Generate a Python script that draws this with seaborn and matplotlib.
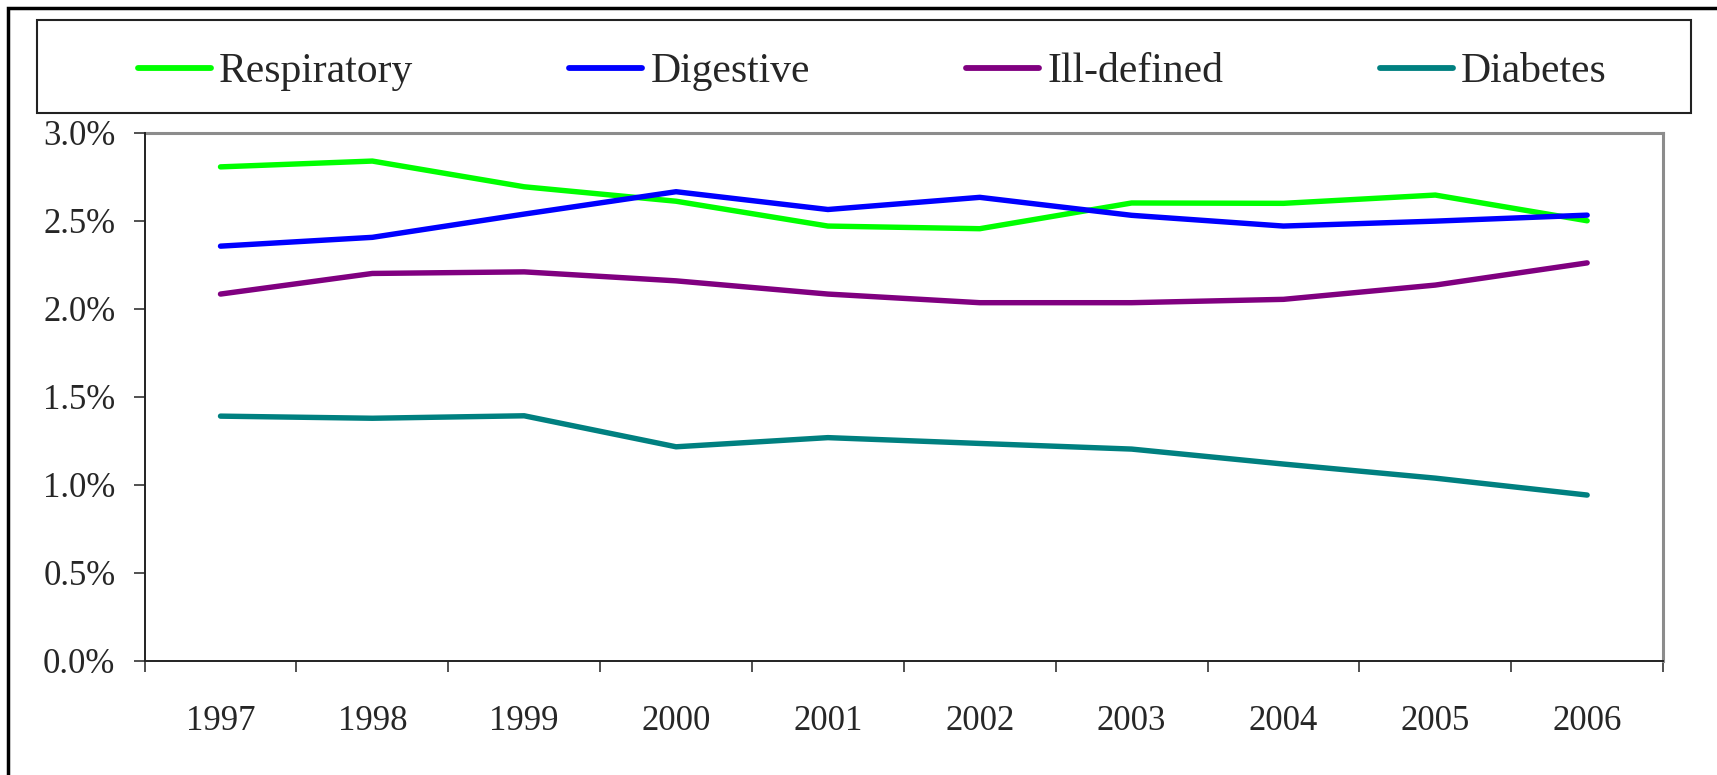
import numpy as np
import pandas as pd
import seaborn as sns
import matplotlib.pyplot as plt
from matplotlib.patches import Rectangle
from matplotlib.ticker import FuncFormatter

years = [1997, 1998, 1999, 2000, 2001, 2002, 2003, 2004, 2005, 2006]
respiratory = [2.805, 2.838, 2.692, 2.610, 2.469, 2.454, 2.600, 2.598, 2.645, 2.499]
digestive = [2.355, 2.405, 2.537, 2.664, 2.563, 2.632, 2.530, 2.469, 2.497, 2.531]
ill_defined = [2.083, 2.200, 2.209, 2.158, 2.083, 2.034, 2.034, 2.053, 2.134, 2.260]
diabetes = [1.390, 1.378, 1.392, 1.216, 1.268, 1.235, 1.203, 1.118, 1.038, 0.942]

series_names = ["Respiratory", "Digestive", "Ill-defined", "Diabetes"]
colors = ["#00FF00", "#0000FF", "#800080", "#008080"]

df = pd.DataFrame({
    "year": years * 4,
    "value": respiratory + digestive + ill_defined + diabetes,
    "cause": np.repeat(series_names, len(years)),
})

sns.set_style("white")
plt.rcParams['font.family'] = ['Liberation Serif', 'DejaVu Serif']

fig = plt.figure(figsize=(17.17, 7.75), dpi=100)
ax = fig.add_axes([0.0842, 0.1471, 0.8844, 0.6819])

sns.lineplot(data=df, x="year", y="value", hue="cause", hue_order=series_names,
             palette=colors, linewidth=3.9, ax=ax, legend=False,
             solid_capstyle='round', sort=False)

ax.set_xlim(1996.5, 2006.5)
ax.set_ylim(0, 3.0)
ax.set_yticks(np.arange(0, 3.01, 0.5))
ax.yaxis.set_major_formatter(FuncFormatter(lambda v, p: f"{v:.1f}%"))

# category axis: ticks between categories, labels centred
ax.set_xticks(np.arange(1996.5, 2007, 1.0))
ax.set_xticklabels([])
ax.set_xticks(years, minor=True)
ax.set_xticklabels([str(y) for y in years], minor=True)
ax.tick_params(axis='x', which='major', direction='out', length=8, width=1.2, color='#333333', bottom=True)
ax.tick_params(axis='x', which='minor', length=0, pad=32, labelsize=25)
ax.tick_params(axis='y', direction='out', length=8, width=1.2, color='#333333', pad=13, labelsize=25, left=True)
ax.set_xlabel("")
ax.set_ylabel("")

for s in ['left', 'bottom']:
    ax.spines[s].set_color('#222222')
    ax.spines[s].set_linewidth(1.4)
for s in ['top', 'right']:
    ax.spines[s].set_color('#8c8c8c')
    ax.spines[s].set_linewidth(2.2)
ax.spines['left'].set_zorder(5)
ax.spines['bottom'].set_zorder(5)

# legend box
fig.patches.append(Rectangle((0.0215, 0.8542), 0.9633, 0.12, transform=fig.transFigure,
                             fill=False, edgecolor='#222222', linewidth=1.5))
handles = [plt.Line2D([], [], color=c, linewidth=4.2, solid_capstyle='round') for c in colors]
leg = fig.legend(handles, series_names, loc='center', ncol=4,
                 bbox_to_anchor=(0.508, 0.907), fontsize=30,
                 frameon=False, handlelength=1.75, handletextpad=0.2,
                 columnspacing=3.75, borderaxespad=0)

# outer chart frame (cropped on the right and bottom)
fig.patches.append(Rectangle((8 / 1717, -0.2), 1.2, 1.2 - 8 / 775, transform=fig.transFigure,
                             fill=False, edgecolor='black', linewidth=2.5, zorder=0))

fig.savefig("out.png", dpi=100)
